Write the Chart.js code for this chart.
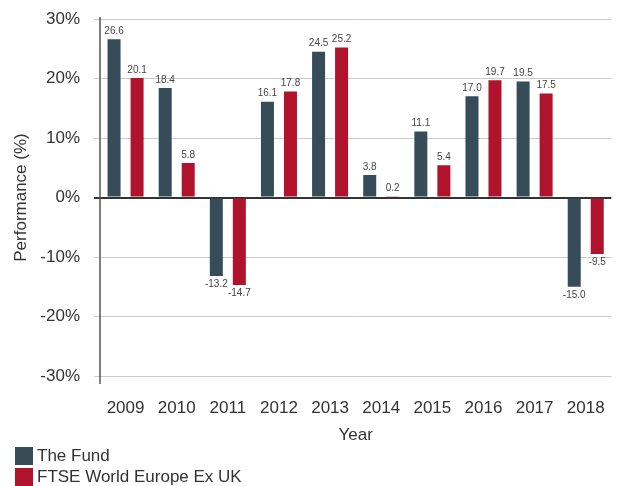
<!DOCTYPE html>
<html lang="en">
<head>
<meta charset="UTF-8">
<title>Performance</title>
<script src="https://cdn.jsdelivr.net/npm/chart.js"></script>
<style>
  body { margin: 0; background: #fff; font-family: "Liberation Sans", Arial, sans-serif; }
  #wrap { position: relative; width: 619px; height: 486px; }
  #legend { position: absolute; left: 15px; top: 445px; color: #333; font-size: 17px; }
  .item { display: flex; align-items: center; height: 21px; }
  .box { width: 18px; height: 18px; margin-right: 4px; }
</style>
</head>
<body>
<div id="wrap">
  <canvas id="myChart" width="619" height="446"></canvas>
  <div id="legend"></div>
</div>
<script>
// datos del gráfico
const years = ['2009', '2010', '2011', '2012', '2013', '2014', '2015', '2016', '2017', '2018'];
const fundValues = [26.6, 18.4, -13.2, 16.1, 24.5, 3.8, 11.1, 17.0, 19.5, -15.0];
const indexValues = [20.1, 5.8, -14.7, 17.8, 25.2, 0.2, 5.4, 19.7, 17.5, -9.5];
const seriesNames = ['The Fund', 'FTSE World Europe Ex UK'];
const seriesColors = ['#364c58', '#b0132b'];

// etiquetas encima / debajo de cada barra
const barLabels = {
    id: 'barLabels',
    afterDatasetsDraw(chart) {
        const ctx = chart.ctx;
        ctx.save();
        ctx.font = '10px "Liberation Sans", Arial, sans-serif';
        ctx.fillStyle = '#444';
        ctx.textAlign = 'center';
        chart.data.datasets.forEach((ds, i) => {
            chart.getDatasetMeta(i).data.forEach((bar, j) => {
                const v = ds.data[j];
                if (v >= 0) {
                    ctx.textBaseline = 'bottom';
                    ctx.fillText(v.toFixed(1), bar.x, bar.y - 3);
                } else {
                    ctx.textBaseline = 'top';
                    ctx.fillText(v.toFixed(1), bar.x, bar.y + 3);
                }
            });
        });
        ctx.restore();
    }
};

// eje vertical un poco más largo que el área del gráfico
const yAxisLine = {
    id: 'yAxisLine',
    afterDraw(chart) {
        const a = chart.chartArea;
        const ctx = chart.ctx;
        ctx.save();
        ctx.strokeStyle = '#555';
        ctx.lineWidth = 1.5;
        ctx.beginPath();
        ctx.moveTo(a.left, a.top - 2);
        ctx.lineTo(a.left, a.bottom + 8);
        ctx.stroke();
        ctx.restore();
    }
};

const ctx = document.getElementById('myChart').getContext('2d');
new Chart(ctx, {
    type: 'bar',
    data: {
        labels: years,
        datasets: [
            { label: seriesNames[0], data: fundValues, backgroundColor: seriesColors[0] },
            { label: seriesNames[1], data: indexValues, backgroundColor: seriesColors[1] }
        ]
    },
    options: {
        responsive: false,
        animation: false,
        devicePixelRatio: 1,
        categoryPercentage: 0.9,
        barPercentage: 0.565,
        layout: { padding: { top: 19, right: 7, left: 0, bottom: 0 } },
        plugins: {
            legend: { display: false },
            tooltip: { enabled: false }
        },
        scales: {
            x: {
                grid: { display: false },
                border: { display: false },
                ticks: { color: '#333', font: { size: 17, family: '"Liberation Sans", Arial, sans-serif' }, padding: 14 },
                title: { display: true, text: 'Year', color: '#333', font: { size: 17, family: '"Liberation Sans", Arial, sans-serif' }, padding: { top: 0, bottom: 0 } },
                afterFit(scale) { scale.height = 70; }
            },
            y: {
                min: -30,
                max: 30,
                grid: {
                    color: c => c.tick.value === 0 ? '#333' : '#cccccc',
                    lineWidth: c => c.tick.value === 0 ? 2 : 1,
                    tickLength: 6
                },
                border: { display: false },
                ticks: {
                    stepSize: 10,
                    color: '#333',
                    padding: 14,
                    font: { size: 17, family: '"Liberation Sans", Arial, sans-serif' },
                    callback: v => v + '%'
                },
                title: { display: true, text: 'Performance (%)', color: '#333', font: { size: 17, family: '"Liberation Sans", Arial, sans-serif' }, padding: { top: 11, bottom: 0 } },
                afterFit(scale) {
                    scale.width = 100;
                    scale.paddingTop = 0;
                    scale.paddingBottom = 0;
                }
            }
        }
    },
    plugins: [barLabels, yAxisLine]
});

// leyenda en HTML
const legend = document.getElementById('legend');
seriesNames.forEach((name, i) => {
    const row = document.createElement('div');
    row.className = 'item';
    row.innerHTML = '<span class="box" style="background:' + seriesColors[i] + '"></span>' + name;
    legend.appendChild(row);
});
</script>
</body>
</html>
